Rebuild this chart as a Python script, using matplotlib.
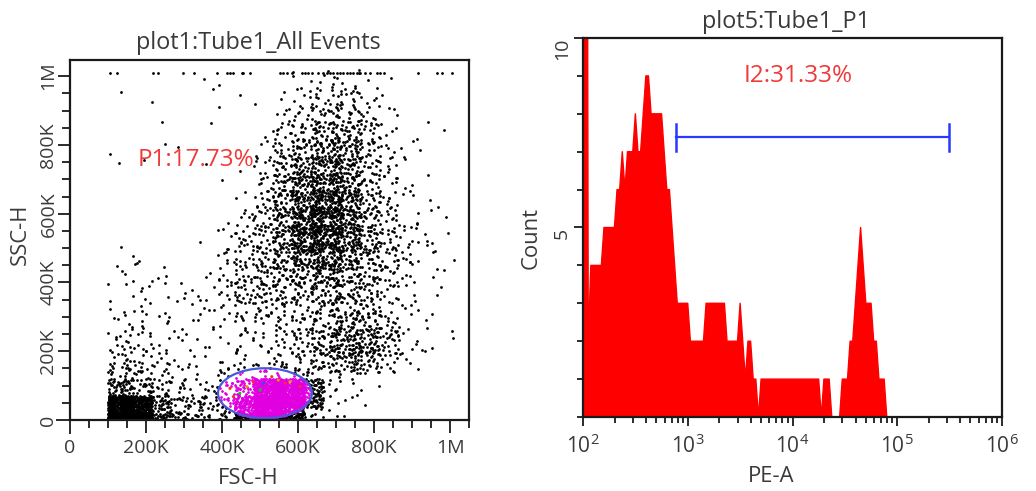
import numpy as np
import matplotlib
matplotlib.use('Agg')
import matplotlib.pyplot as plt
from matplotlib.patches import Ellipse
from matplotlib.ticker import MultipleLocator, FixedLocator, NullFormatter

plt.rcParams['font.family'] = ['Open Sans', 'DejaVu Sans']
plt.rcParams['mathtext.default'] = 'regular'

# ---- plot1: FSC-H vs SSC-H, event density ----
# one char per 50K x 50K cell, top row is 1.00M-1.05M, first column is 0-50K
density_rows = [
    "000000000000000000000",
    "000000011001233210000",
    "000100000002344310000",
    "000000010013455420000",
    "000001000024566531101",
    "001010000035677532000",
    "000000010146777531000",
    "000000000146888532100",
    "000000000257898642100",
    "000000002357998642110",
    "000000013457998653210",
    "001100003456887653211",
    "001211013556676543110",
    "001121124555566542100",
    "001211223444455532100",
    "002321112333456652110",
    "003322112234567763110",
    "004432112223467752100",
    "005543224454432100000",
    "0087543469CCA32100000",
    "00CC96655BCB521000000",
]
level_counts = {'0': 0, '1': 2, '2': 4, '3': 7, '4': 12, '5': 18, '6': 27,
                '7': 38, '8': 52, '9': 70, 'A': 130, 'B': 200, 'C': 300}

# events stuck at the SSC-H ceiling (FSC-H in K)
ceiling_x = [105, 123, 219, 232, 298, 325, 386, 412, 421, 430, 452, 456, 474,
             553, 561, 570, 583, 610, 618, 627, 636, 653, 667, 675, 684, 693,
             702, 711, 719, 728, 737, 746, 754, 763, 776, 789, 807, 816, 825,
             917, 965, 978, 1004]
ceiling_y = 1008

# P1 gate (K)
gate_x, gate_y, gate_w, gate_h = 513, 78, 247, 145
gate_label = 'P1:17.73%'

# a few events painted by other gates
other_x = [482, 531, 548, 447, 430, 509, 566, 579, 500, 465, 605, 421]
other_y = [111, 126, 116, 78, 68, 107, 107, 111, 87, 97, 97, 92]
other_c = ['#ff2a2a', '#ff2a2a', '#ff8c00', '#22b422', '#ff2a2a', '#2850ff',
           '#ff2a2a', '#ffa500', '#22b422', '#ff8c00', '#ff2a2a', '#ff2a2a']

# ---- plot5: PE-A histogram, 40 channels per decade from 10^2 ----
hist_counts = [
    2, 40, 2, 4, 4, 4, 4, 4, 5, 5, 5, 5, 5, 6, 6, 7, 6, 7, 7, 7,
    8, 7, 7, 8, 9, 9, 8, 8, 8, 8, 8, 7, 6, 6, 5, 4, 3, 3, 3, 3,
    3, 2, 2, 2, 2, 2, 2, 3, 3, 3, 3, 3, 3, 3, 3, 2, 2, 2, 2, 2,
    3, 2, 1, 2, 2, 1, 1, 0, 1, 1, 1, 1, 1, 1, 1, 1, 1, 1, 1, 1,
    1, 1, 1, 1, 1, 1, 1, 1, 1, 1, 1, 0, 1, 1, 1, 0, 0, 0, 0, 1,
    1, 1, 2, 2, 3, 4, 5, 4, 3, 3, 3, 2, 2, 1, 1, 1, 0, 0, 0, 0,
    0, 0, 0, 0, 0, 0, 0, 0, 0, 0, 0, 0, 0, 0, 0, 0, 0, 0, 0, 0,
    0, 0, 0, 0, 0, 0, 0, 0, 0, 0, 0, 0, 0, 0, 0, 0, 0, 0, 0, 0,
    0,
]
marker_lo, marker_hi, marker_y = 775, 3.12e5, 7.38
marker_label = 'I2:31.33%'

TXT = '#3a3a3a'


def halton(k, base):
    f, r = 1.0, 0.0
    while k > 0:
        f /= base
        r += f * (k % base)
        k //= base
    return r


def spread_cells(rows, counts, cell, bleed=0.35):
    """Lay the events of every cell evenly over it (Halton points),
    letting them bleed into the neighbours to hide the grid."""
    xs, ys = [], []
    k = 0
    n = len(rows)
    span = 1 + 2 * bleed
    for ri, row in enumerate(rows):
        r = n - 1 - ri
        for j, ch in enumerate(row):
            for _ in range(counts[ch]):
                k += 1
                xs.append((j - bleed + span * halton(k, 2)) * cell)
                ys.append((r - bleed + span * halton(k, 3)) * cell)
    xs = np.array(xs)
    ys = np.array(ys)
    xs = np.where(xs < 100, 200 - xs, xs)   # FSC-H threshold at 100K
    ys = np.abs(ys) + 3
    return xs, ys


def style_axes(ax):
    for s in ax.spines.values():
        s.set_linewidth(1.6)
        s.set_color('#1a1a1a')
    ax.tick_params(which='both', direction='out', color='#1a1a1a', width=1.3,
                   labelcolor=TXT, labelsize=14, top=False, right=False)


fig = plt.figure(figsize=(10.36, 4.91), dpi=100)

# left panel
ax1 = fig.add_axes([70 / 1036, 71 / 491, 399 / 1036, 360 / 491])
ex, ey = spread_cells(density_rows, level_counts, 50)
ex = np.concatenate([ex, ceiling_x])
ey = np.concatenate([ey, np.full(len(ceiling_x), ceiling_y)])
inside = ((ex - gate_x) / (gate_w / 2)) ** 2 + ((ey - gate_y) / (gate_h / 2)) ** 2 < 1
ax1.scatter(ex[~inside] * 1e3, ey[~inside] * 1e3, s=4, c='black', lw=0)
ax1.scatter(ex[inside] * 1e3, ey[inside] * 1e3, s=4, c='#e000e0', lw=0)
ax1.scatter(np.array(other_x) * 1e3, np.array(other_y) * 1e3, s=5, c=other_c, lw=0)
ax1.add_patch(Ellipse((gate_x * 1e3, gate_y * 1e3), gate_w * 1e3, gate_h * 1e3,
                      fill=False, ec='#4a58dc', lw=1.6))
ax1.text(178e3, 755e3, gate_label, color='#f03a3a', fontsize=17.5, va='center')
ax1.set_xlim(0, 1.05e6)
ax1.set_ylim(0, 1.047e6)
ticks = [0, 200e3, 400e3, 600e3, 800e3, 1e6]
tick_lbl = ['0', '200K', '400K', '600K', '800K', '1M']
ax1.xaxis.set_major_locator(FixedLocator(ticks))
ax1.yaxis.set_major_locator(FixedLocator(ticks))
ax1.xaxis.set_minor_locator(MultipleLocator(50e3))
ax1.yaxis.set_minor_locator(MultipleLocator(50e3))
style_axes(ax1)
ax1.tick_params(which='major', length=9, pad=0)
ax1.tick_params(which='minor', length=5.5)
ax1.tick_params(axis='x', which='major', pad=5)
ax1.set_xticklabels(tick_lbl)
ax1.set_yticklabels(tick_lbl, rotation=90, va='center')
ax1.xaxis.get_major_ticks()[0].tick1line.set_markersize(10)
ax1.yaxis.get_major_ticks()[0].tick1line.set_markersize(10)

# right panel
ax2 = fig.add_axes([583 / 1036, 74 / 491, 419 / 1036, 379 / 491])
pe = 10 ** (2 + np.arange(len(hist_counts)) / 40)
ax2.fill_between(pe, hist_counts, color='#ff0000', lw=0)
ax2.plot(pe, hist_counts, color='#ff0000', lw=1)
ax2.plot([marker_lo, marker_hi], [marker_y, marker_y], color='#2838ff', lw=1.6)
for xm in (marker_lo, marker_hi):
    ax2.plot([xm, xm], [marker_y - 0.35, marker_y + 0.35], color='#2838ff', lw=1.8)
ax2.text(1.14e4, 9.0, marker_label, color='#f03a3a', fontsize=17.5,
         ha='center', va='center')
ax2.set_xscale('log')
ax2.set_xlim(1e2, 1e6)
ax2.set_ylim(0, 10)
ax2.xaxis.set_major_locator(FixedLocator([1e2, 1e3, 1e4, 1e5, 1e6]))
ax2.set_xticklabels(['$10^{2}$', '$10^{3}$', '$10^{4}$', '$10^{5}$', '$10^{6}$'])
ax2.yaxis.set_major_locator(FixedLocator([5, 10]))
ax2.yaxis.set_minor_locator(MultipleLocator(1))
ax2.xaxis.set_minor_formatter(NullFormatter())
style_axes(ax2)
ax2.tick_params(which='major', length=6.5, pad=2)
ax2.tick_params(which='minor', length=4.5)
ax2.tick_params(axis='x', which='major', labelsize=15, pad=6)
ax2.set_yticklabels(['5', '10'], rotation=90, va='top')

# titles and axis names
fig.text(258 / 1036, 1 - 43 / 491, 'plot1:Tube1_All Events', ha='center', va='center',
         fontsize=16.8, color=TXT)
fig.text(248 / 1036, 1 - 478 / 491, 'FSC-H', ha='center', va='center', fontsize=15.8, color=TXT)
fig.text(20 / 1036, 1 - 234 / 491, 'SSC-H', ha='center', va='center', rotation=90,
         fontsize=15.8, color=TXT)
fig.text(786 / 1036, 1 - 22 / 491, 'plot5:Tube1_P1', ha='center', va='center',
         fontsize=16.8, color=TXT)
fig.text(771 / 1036, 1 - 477 / 491, 'PE-A', ha='center', va='center', fontsize=15.8, color=TXT)
fig.text(531 / 1036, 1 - 238 / 491, 'Count', ha='center', va='center', rotation=90,
         fontsize=15.8, color=TXT)

fig.savefig('out.png', dpi=100)
